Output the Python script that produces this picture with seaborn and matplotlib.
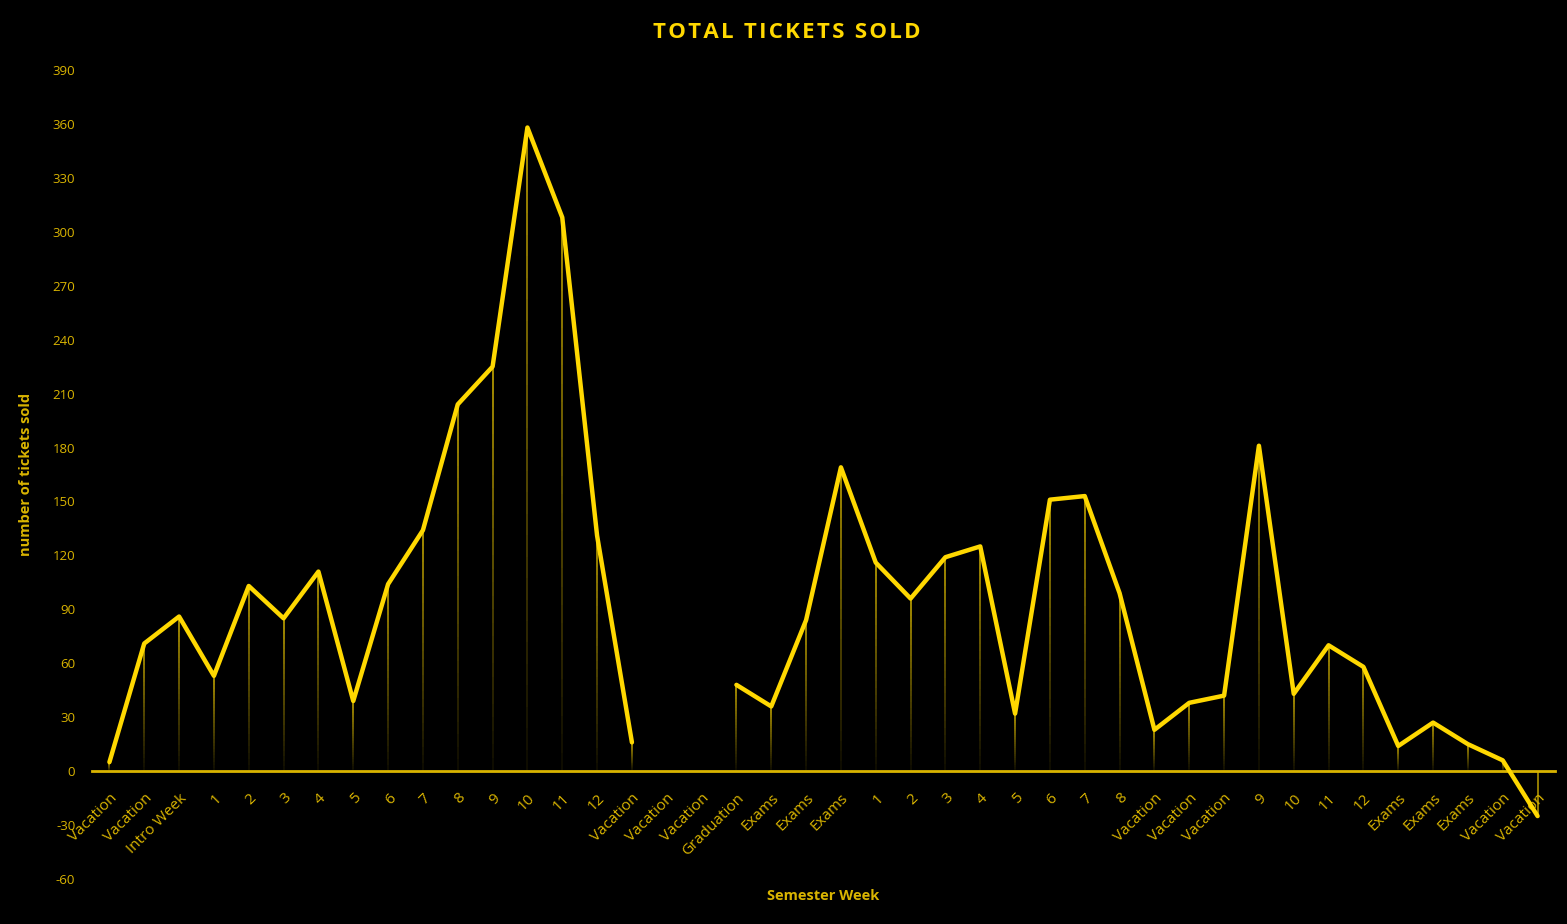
import numpy as np
import pandas as pd
import matplotlib
matplotlib.use("Agg")
import matplotlib.pyplot as plt
import seaborn as sns
from matplotlib.collections import LineCollection

# ---- data ----
week_labels = ["Vacation", "Vacation", "Intro Week", "1", "2", "3", "4", "5", "6", "7", "8", "9",
               "10", "11", "12", "Vacation", "Vacation", "Vacation", "Graduation", "Exams", "Exams",
               "Exams", "1", "2", "3", "4", "5", "6", "7", "8", "Vacation", "Vacation", "Vacation",
               "9", "10", "11", "12", "Exams", "Exams", "Exams", "Vacation", "Vacation"]
tickets = [5, 71, 86, 53, 103, 85, 111, 39, 104, 134, 204, 225, 358, 308, 131, 16,
           np.nan, np.nan, 48, 36, 84, 169, 116, 96, 119, 125, 32, 151, 153, 99, 23, 38,
           42, 181, 43, 70, 58, 14, 27, 15, 6, -25]
segment = [0] * 16 + [1] * 26
y_ticks = list(range(-60, 391, 30))

YELLOW = "#FFD800"
DARKY = "#D9B400"

df = pd.DataFrame({"pos": np.arange(len(week_labels)), "tickets": tickets, "segment": segment})

sns.set_style("dark")
plt.rcParams["font.family"] = ["Open Sans", "DejaVu Sans"]

fig = plt.figure(figsize=(15.67, 9.24), dpi=100, facecolor="black")
ax = fig.add_axes([92 / 1567, 1 - 879 / 924, (1555 - 92) / 1567, (879 - 70) / 924])
ax.set_facecolor("black")

# gradient drop lines
segs, cols = [], []
n = 30
for x, v in zip(df["pos"], df["tickets"]):
    if np.isnan(v):
        continue
    for k in range(n):
        y0 = v * k / n
        y1 = v * (k + 1) / n
        segs.append([(x, y0), (x, y1)])
        a = 0.05 + 0.85 * ((k + 1) / n) if v > 0 else 0.8
        cols.append((0.85, 0.72, 0.0, a))
ax.add_collection(LineCollection(segs, colors=cols, linewidths=1.2, zorder=2))

sns.lineplot(data=df.dropna(), x="pos", y="tickets", units="segment", estimator=None,
             color=YELLOW, linewidth=3.2, ax=ax, zorder=4, legend=False)

for s in ["left", "right", "top"]:
    ax.spines[s].set_visible(False)
ax.spines["bottom"].set_position(("data", 0))
ax.spines["bottom"].set_color(DARKY)
ax.spines["bottom"].set_linewidth(2.0)
ax.spines["bottom"].set_zorder(3)

ax.set_xlim(-0.5, len(week_labels) - 0.5)
ax.set_ylim(-60, 390)
ax.set_yticks(y_ticks)
ax.set_yticklabels([str(t) for t in y_ticks])
ax.set_xticks(df["pos"])
ax.set_xticklabels(week_labels, rotation=45, ha="right", rotation_mode="anchor")
ax.grid(False)

ax.tick_params(axis="x", length=0, pad=14, labelsize=11, labelcolor=DARKY)
ax.tick_params(axis="y", length=0, pad=12, labelsize=9.5, labelcolor=DARKY)

ax.set_xlabel("Semester Week", color=DARKY, fontsize=10.5, fontweight="bold")
ax.xaxis.set_label_coords(0.5, -0.012)
ax.set_ylabel("number of tickets sold", color=DARKY, fontsize=10.5, fontweight="bold")
ax.yaxis.set_label_coords(-0.04, 0.5)

title = "TOTAL TICKETS SOLD"
fig.text(787 / 1567, 1 - 32 / 924, "\u200a".join(title),
         color=YELLOW, fontsize=16, fontweight="bold", ha="center", va="center")

fig.savefig("out.png", dpi=100, facecolor="black")
